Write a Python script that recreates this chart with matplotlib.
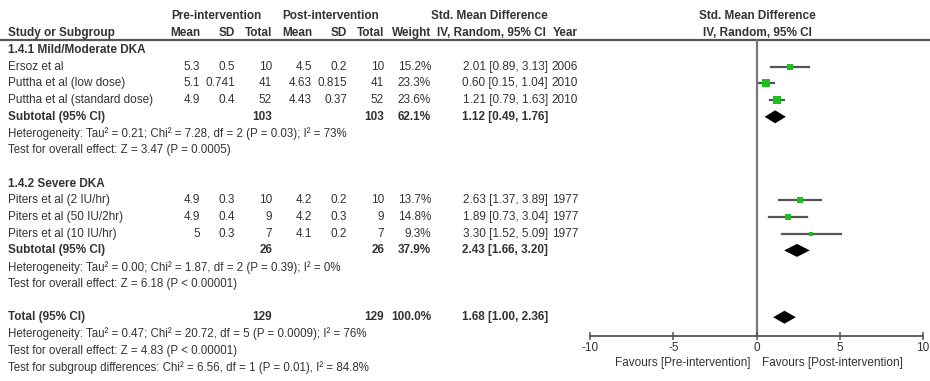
import numpy as np
import matplotlib.pyplot as plt

plt.rcParams['font.family'] = ['Liberation Sans Narrow', 'Liberation Sans', 'DejaVu Sans']

# study-level data
studies = ["Ersoz et al", "Puttha et al (low dose)", "Puttha et al (standard dose)",
           "Piters et al (2 IU/hr)", "Piters et al (50 IU/2hr)", "Piters et al (10 IU/hr)"]
group = [0, 0, 0, 1, 1, 1]
pre_mean = [5.3, 5.1, 4.9, 4.9, 4.9, 5]
pre_sd = [0.5, 0.741, 0.4, 0.3, 0.4, 0.3]
pre_n = [10, 41, 52, 10, 9, 7]
post_mean = [4.5, 4.63, 4.43, 4.2, 4.2, 4.1]
post_sd = [0.2, 0.815, 0.37, 0.2, 0.3, 0.2]
post_n = [10, 41, 52, 10, 9, 7]
weight = [15.2, 23.3, 23.6, 13.7, 14.8, 9.3]
smd = [2.01, 0.60, 1.21, 2.63, 1.89, 3.30]
ci_lo = [0.89, 0.15, 0.79, 1.37, 0.73, 1.52]
ci_hi = [3.13, 1.04, 1.63, 3.89, 3.04, 5.09]
year = [2006, 2010, 2010, 1977, 1977, 1977]

# subgroup / overall pooled estimates
groups = ["1.4.1 Mild/Moderate DKA", "1.4.2 Severe DKA"]
sub_n = [103, 26]
sub_weight = [62.1, 37.9]
sub_smd = [1.12, 2.43]
sub_lo = [0.49, 1.66]
sub_hi = [1.76, 3.20]
sub_het = ["Heterogeneity: Tau² = 0.21; Chi² = 7.28, df = 2 (P = 0.03); I² = 73%",
           "Heterogeneity: Tau² = 0.00; Chi² = 1.87, df = 2 (P = 0.39); I² = 0%"]
sub_z = ["Test for overall effect: Z = 3.47 (P = 0.0005)",
         "Test for overall effect: Z = 6.18 (P < 0.00001)"]

tot_n = 129
tot_weight = 100.0
tot_smd, tot_lo, tot_hi = 1.68, 1.00, 2.36
tot_notes = ["Heterogeneity: Tau² = 0.47; Chi² = 20.72, df = 5 (P = 0.0009); I² = 76%",
             "Test for overall effect: Z = 4.83 (P < 0.00001)",
             "Test for subgroup differences: Chi² = 6.56, df = 1 (P = 0.01), I² = 84.8%"]

xticks = [-10, -5, 0, 5, 10]
fav_left = "Favours [Pre-intervention]"
fav_right = "Favours [Post-intervention]"

# layout (pixels)
W, H = 930, 381
ROW0, DY = 50, 16.7
def row_y(i):
    return ROW0 + i * DY

X_LABEL = 8
X_PRE_M, X_PRE_SD, X_PRE_N = 200, 235, 272
X_POST_M, X_POST_SD, X_POST_N = 312, 347, 384
X_W, X_CI, X_YEAR = 431, 548, 578
AXIS_Y = 336
FS = 8.5
FS_NOTE = 8.3
TXT = '#333333'

fig = plt.figure(figsize=(W / 100, H / 100), dpi=100)
tab = fig.add_axes([0, 0, 1, 1])
tab.set_xlim(0, W)
tab.set_ylim(H, 0)
tab.axis('off')

fp = fig.add_axes([590 / W, 0, 333 / W, 1])
fp.set_xlim(-10, 10)
fp.set_ylim(H, 0)
fp.patch.set_visible(False)

def put(x, y, s, ha='right', bold=False, size=FS):
    tab.text(x, y, s, ha=ha, va='center', fontsize=size, color=TXT,
             fontweight='bold' if bold else 'normal')

# column headers
put(216, 16, "Pre-intervention", ha='center', bold=True)
put(331, 16, "Post-intervention", ha='center', bold=True)
put(489, 16, "Std. Mean Difference", ha='center', bold=True)
put(757, 16, "Std. Mean Difference", ha='center', bold=True)
hy = 33
put(X_LABEL, hy, "Study or Subgroup", ha='left', bold=True)
for x, s in [(X_PRE_M, "Mean"), (X_PRE_SD, "SD"), (X_PRE_N, "Total"),
             (X_POST_M, "Mean"), (X_POST_SD, "SD"), (X_POST_N, "Total"),
             (X_W, "Weight"), (546, "IV, Random, 95% CI"), (X_YEAR, "Year")]:
    put(x, hy, s, bold=True)
put(757, hy, "IV, Random, 95% CI", ha='center', bold=True)
tab.axhline(40, color='#555555', lw=1.6)

def diamond(y, est, lo, hi):
    fp.fill([lo, est, hi, est], [y, y - 6.5, y, y + 6.5], color='black', lw=0)

row = 0
for g, gname in enumerate(groups):
    put(X_LABEL, row_y(row), gname, ha='left', bold=True)
    row += 1
    for k in [i for i in range(len(studies)) if group[i] == g]:
        y = row_y(row)
        put(X_LABEL, y, studies[k], ha='left')
        put(X_PRE_M, y, f"{pre_mean[k]:g}")
        put(X_PRE_SD, y, f"{pre_sd[k]:g}")
        put(X_PRE_N, y, str(pre_n[k]))
        put(X_POST_M, y, f"{post_mean[k]:g}")
        put(X_POST_SD, y, f"{post_sd[k]:g}")
        put(X_POST_N, y, str(post_n[k]))
        put(X_W, y, f"{weight[k]:.1f}%")
        put(X_CI, y, f"{smd[k]:.2f} [{ci_lo[k]:.2f}, {ci_hi[k]:.2f}]")
        put(X_YEAR, y, str(year[k]))
        fp.plot([ci_lo[k], ci_hi[k]], [y, y], color='#555555', lw=1.6, zorder=2)
        fp.plot(smd[k], y, 's', color='#1fbf1f', ms=1.15 * np.sqrt(weight[k]),
                mew=0, zorder=3)
        row += 1
    y = row_y(row)
    put(X_LABEL, y, "Subtotal (95% CI)", ha='left', bold=True)
    put(X_PRE_N, y, str(sub_n[g]), bold=True)
    put(X_POST_N, y, str(sub_n[g]), bold=True)
    put(X_W, y, f"{sub_weight[g]:.1f}%", bold=True)
    put(X_CI, y, f"{sub_smd[g]:.2f} [{sub_lo[g]:.2f}, {sub_hi[g]:.2f}]", bold=True)
    diamond(y, sub_smd[g], sub_lo[g], sub_hi[g])
    put(X_LABEL, row_y(row + 1), sub_het[g], ha='left', size=FS_NOTE)
    put(X_LABEL, row_y(row + 2), sub_z[g], ha='left', size=FS_NOTE)
    row += 4

y = row_y(row)
put(X_LABEL, y, "Total (95% CI)", ha='left', bold=True)
put(X_PRE_N, y, str(tot_n), bold=True)
put(X_POST_N, y, str(tot_n), bold=True)
put(X_W, y, f"{tot_weight:.1f}%", bold=True)
put(X_CI, y, f"{tot_smd:.2f} [{tot_lo:.2f}, {tot_hi:.2f}]", bold=True)
diamond(y, tot_smd, tot_lo, tot_hi)
for j, s in enumerate(tot_notes):
    put(X_LABEL, row_y(row + 1 + j), s, ha='left', size=FS_NOTE)

# zero line and effect axis
fp.plot([0, 0], [40, AXIS_Y], color='#777777', lw=1.6, zorder=1)
for side in ['left', 'right', 'top']:
    fp.spines[side].set_visible(False)
fp.spines['bottom'].set_position(('data', AXIS_Y))
fp.spines['bottom'].set_color('#555555')
fp.spines['bottom'].set_linewidth(1.3)
fp.set_yticks([])
fp.set_xticks(xticks)
fp.set_xticklabels([str(t) for t in xticks])
fp.tick_params(axis='x', direction='inout', length=6, width=1.1, color='#555555',
               labelsize=FS, labelcolor=TXT, pad=1)
fp.text(-0.35, 363, fav_left, ha='right', va='center', fontsize=FS, color=TXT)
fp.text(0.35, 363, fav_right, ha='left', va='center', fontsize=FS, color=TXT)

fig.savefig('out.png', dpi=100)
